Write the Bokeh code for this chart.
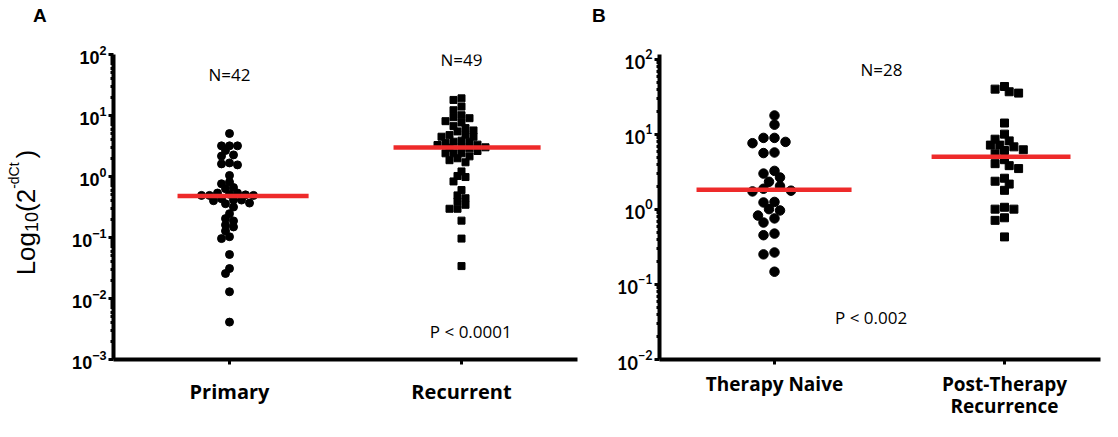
import numpy as np
from bokeh.plotting import figure
from bokeh.layouts import row
from bokeh.models import FixedTicker, Label, Range1d
from bokeh.core.properties import value
from bokeh.embed import file_html
from bokeh.resources import INLINE

# ---------------- data ----------------
panel_a_categories = ["Primary", "Recurrent"]
primary = [5.06, 3.18, 3.18, 3.18, 2.67, 2.16, 2.26, 1.61, 1.55, 1.67, 1.04,
           0.76, 0.81, 0.63, 0.66, 0.536, 0.51, 0.49, 0.50, 0.49, 0.49, 0.536,
           0.411, 0.401, 0.358, 0.432, 0.316, 0.367, 0.411, 0.246, 0.204, 0.187,
           0.161, 0.149, 0.128, 0.096, 0.103, 0.0526, 0.031, 0.0257, 0.0129, 0.0041]
recurrent = [19.1, 18.0, 14.0, 12.2, 9.38, 9.03, 10.1, 7.69, 8.07, 6.21, 6.69,
             5.48, 5.69, 4.77, 4.49, 4.49, 4.84, 3.87, 3.72, 3.72, 3.53, 3.28,
             3.33, 3.04, 2.90, 2.97, 3.01, 2.62, 2.40, 2.40, 2.40, 1.99, 2.14,
             1.71, 1.85, 1.21, 1.02, 0.98, 0.83, 0.60, 0.49, 0.44, 0.39, 0.296,
             0.296, 0.344, 0.189, 0.096, 0.034]
panel_a_medians = [0.48, 3.0]
panel_a_n_labels = ["N=42", "N=49"]
panel_a_p_label = "P < 0.0001"

panel_b_categories = ["Therapy Naive", "Post-Therapy\nRecurrence"]
naive = [17.9, 13.5, 7.96, 9.0, 9.0, 7.65, 5.75, 5.65, 3.27, 2.67, 3.01, 2.34,
         2.05, 1.78, 1.74, 1.89, 1.24, 1.26, 0.97, 1.01, 0.76, 0.67, 0.83,
         0.454, 0.477, 0.267, 0.252, 0.148]
post_therapy = [40.2, 35.6, 37.1, 43.6, 14.2, 10.1, 8.21, 7.21, 6.84, 7.21, 8.65,
                6.11, 5.53, 6.25, 4.61, 3.84, 3.51, 4.08, 2.61, 2.18, 2.38, 1.80,
                1.07, 1.01, 1.01, 0.775, 0.716, 0.431]
panel_b_medians = [1.83, 5.05]
panel_b_n_label = "N=28"
panel_b_p_label = "P < 0.002"

a_ticks = [1e-3, 1e-2, 1e-1, 1e0, 1e1, 1e2]
b_ticks = [1e-2, 1e-1, 1e0, 1e1, 1e2]
y_title_parts = ["Log", "10", "(2", " -dCt", " )"]
panel_letters = ["A", "B"]

# ---------------- layout constants ----------------
H = 421
TOP, BOTTOM = 54, 61            # shared frame borders (frame = page y 62..368)
FRAME_H = H - TOP - BOTTOM
T_W = 54                         # title strip (page x 8..62)
A_W, A_LEFT, A_RIGHT = 534, 59, 11   # page x 62..596, frame 121..585
M_W = 22                         # strip for letter B (page x 596..618)
B_W, B_LEFT, B_RIGHT = 492, 49, 2    # page x 618..1110, frame 667..1108
B_TOP_GAP = 5                    # px between frame top and 10^2 in panel B
RED = "#EE2A2A"
TICK_FONT_A = "Liberation Sans"
TICK_FONT_B = "Lato"
CAT_FONT = "Open Sans"
NOTE_FONT = "Open Sans"


def minor_ticks(major):
    out = []
    for m in major[:-1]:
        out += [m * k for k in range(2, 10)]
    return out


def swarm(values, px_per_decade, px_per_unit, step, diam):
    ys = np.log10(np.asarray(values, float)) * px_per_decade
    order = np.argsort(-ys)
    cands = [0.0]
    for j in range(1, 60):
        cands += [-j * step, j * step]
    placed = []
    offs = np.zeros(len(ys))
    for i in order:
        chosen = 0.0
        for c in cands:
            if all((c - px) ** 2 + (ys[i] - py) ** 2 >= diam ** 2 for px, py in placed):
                chosen = c
                break
        placed.append((chosen, ys[i]))
        offs[i] = chosen
    return offs / px_per_unit


def strip(width, letter=None, letter_offset=0):
    s = figure(width=width, height=H, x_range=Range1d(0, width), y_range=Range1d(0, 1),
               output_backend="svg", toolbar_location=None,
               min_border_left=0, min_border_right=0,
               min_border_top=TOP, min_border_bottom=BOTTOM)
    s.axis.visible = False
    s.grid.visible = False
    s.outline_line_color = None
    s.border_fill_color = "white"
    s.background_fill_color = "white"
    if letter is not None:
        s.title.text = letter + "\n "
        s.title.align = "left"
        s.title.vertical_align = "bottom"
        s.title.offset = letter_offset
        s.title.standoff = 6
        s.title.text_font = "Liberation Sans"
        s.title.text_font_style = "bold"
        s.title.text_font_size = "19px"
        s.title.text_line_height = 1.2
        s.title.text_color = "black"
    return s


def make_fig(width, left, right, x_end, y_start, y_end, y_ticks, cats, tick_font):
    p = figure(width=width, height=H, y_axis_type="log",
               x_range=Range1d(0.5, x_end), y_range=Range1d(y_start, y_end),
               output_backend="svg", toolbar_location=None,
               min_border_left=left, min_border_right=right,
               min_border_top=TOP, min_border_bottom=BOTTOM)
    p.outline_line_color = None
    p.xgrid.visible = False
    p.ygrid.visible = False
    p.background_fill_color = "white"
    p.border_fill_color = "white"

    ya = p.yaxis[0]
    ya.ticker = FixedTicker(ticks=y_ticks, minor_ticks=minor_ticks(y_ticks))
    ya.axis_line_width = 4
    ya.axis_line_color = "black"
    ya.major_tick_line_width = 3
    ya.major_tick_in = 0
    ya.major_tick_out = 5
    ya.minor_tick_line_width = 3
    ya.minor_tick_in = 0
    ya.minor_tick_out = 3
    ya.major_label_standoff = 2
    ya.major_label_text_font = tick_font
    ya.major_label_text_font_style = "bold"
    ya.major_label_text_font_size = "18px"
    ya.major_label_text_color = "black"

    xa = p.xaxis[0]
    xa.ticker = FixedTicker(ticks=[1, 2])
    xa.major_label_overrides = {1: cats[0], 2: cats[1]}
    xa.axis_line_width = 4
    xa.axis_line_color = "black"
    xa.major_tick_line_width = 3
    xa.major_tick_in = 0
    xa.major_tick_out = 5
    xa.minor_tick_line_color = None
    xa.major_label_standoff = 13
    xa.major_label_text_font = CAT_FONT
    xa.major_label_text_font_style = "bold"
    xa.major_label_text_font_size = "20px"
    xa.major_label_text_color = "black"
    return p


def note(p, text, x, y):
    p.add_layout(Label(x=x, y=y, text=text, text_font=NOTE_FONT,
                       text_font_size="17px", text_align="center",
                       text_baseline="middle", text_color="black"))


# ---------------- y-axis title strip (with letter A) ----------------
pt = strip(T_W, panel_letters[0], letter_offset=40.5 - 8)

cw = {"L": 0.556, "o": 0.556, "g": 0.556, "1": 0.556, "0": 0.556, "(": 0.333,
      "2": 0.556, " ": 0.278, "-": 0.333, "d": 0.556, "C": 0.722, "t": 0.278, ")": 0.333}
sizes = [26, 18, 26, 14, 26]
shifts = [0, 6, 0, -12, 0]       # + = toward the right of the page
advances = [sum(cw[c] for c in t) * s for t, s in zip(y_title_parts, sizes)]
total = sum(advances)
title_center_y = 217.0           # page px
frame_center_y = 8 + TOP + FRAME_H / 2.0
cum = 0.0
for t, s, sh, adv in zip(y_title_parts, sizes, shifts, advances):
    pt.text(x=[33 - 8 + sh], y=[0.5], text=[t], angle=np.pi / 2,
            x_offset=0, y_offset=(total / 2.0 - cum) + (title_center_y - frame_center_y),
            text_font=value("Liberation Sans"), text_font_size=f"{s}px",
            text_align="left", text_baseline="alphabetic", text_color="black")
    cum += adv

# ---------------- panel A ----------------
a_frame_w = A_W - A_LEFT - A_RIGHT
a_px_unit = a_frame_w / 2.0
a_px_dec = FRAME_H / 5.0
pa = make_fig(A_W, A_LEFT, A_RIGHT, 2.5, a_ticks[0], a_ticks[-1], a_ticks,
              panel_a_categories, TICK_FONT_A)

pa.scatter(1 + swarm(primary, a_px_dec, a_px_unit, step=4.0, diam=6.0), primary,
           marker="circle", size=8, color="black")
pa.scatter(2 + swarm(recurrent, a_px_dec, a_px_unit, step=4.0, diam=6.0), recurrent,
           marker="square", size=7, color="black")
pa.segment(x0=[1 - 0.224, 2 - 0.293], x1=[1 + 0.341, 2 + 0.341],
           y0=panel_a_medians, y1=panel_a_medians, line_color=RED, line_width=4.5)

note(pa, panel_a_n_labels[0], 1.0, 46.6)
note(pa, panel_a_n_labels[1], 2.0, 82.0)
note(pa, panel_a_p_label, 2.04, 0.0029)

# ---------------- strip with letter B ----------------
pm = strip(M_W, panel_letters[1], letter_offset=599.5 - 596)

# ---------------- panel B ----------------
b_frame_w = B_W - B_LEFT - B_RIGHT
b_px_unit = 230.0
b_x_end = 0.5 + b_frame_w / b_px_unit
b_px_dec = (FRAME_H + 2 - B_TOP_GAP) / 4.0
b_y_end = b_ticks[-1] * 10 ** (B_TOP_GAP / b_px_dec)
pb = make_fig(B_W, B_LEFT, B_RIGHT, b_x_end, b_ticks[0], b_y_end, b_ticks,
              panel_b_categories, TICK_FONT_B)
pb.xaxis[0].major_label_standoff = 6
pb.xaxis[0].major_label_text_font_size = "19px"
pb.xaxis[0].major_label_text_line_height = 0.85

pb.scatter(1 + swarm(naive, b_px_dec, b_px_unit, step=5.5, diam=8.5), naive,
           marker="circle", size=9.5, color="black")
pb.scatter(2 + swarm(post_therapy, b_px_dec, b_px_unit, step=4.7, diam=7.0), post_therapy,
           marker="square", size=8, color="black")
pb.segment(x0=[1 - 0.339, 2 - 0.317], x1=[1 + 0.335, 2 + 0.287],
           y0=panel_b_medians, y1=panel_b_medians, line_color=RED, line_width=4.5)

note(pb, panel_b_n_label, 1.465, 73.8)
note(pb, panel_b_p_label, 1.42, 0.0368)

layout = row(pt, pa, pm, pb)
open("out.html", "w").write(file_html(layout, INLINE))
